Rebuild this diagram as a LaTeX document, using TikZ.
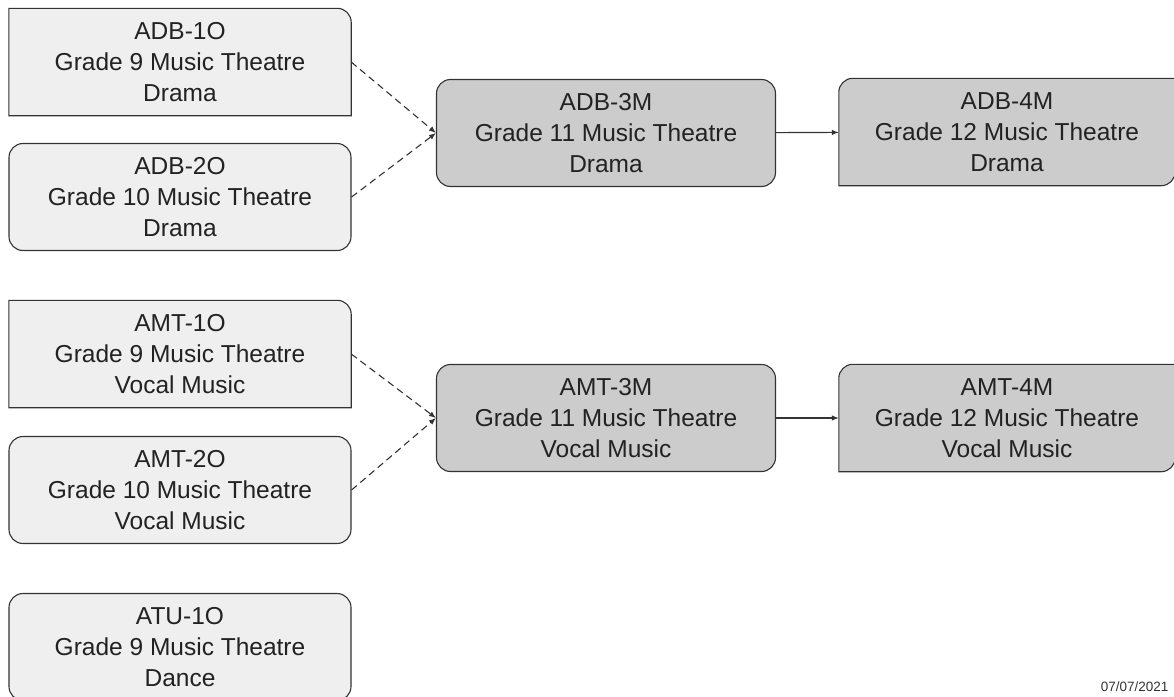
\documentclass[tikz,border=0pt]{standalone}
\usepackage{fontspec}
\setmainfont{Liberation Sans}
\usetikzlibrary{arrows.meta, backgrounds}
\definecolor{ink}{HTML}{222222}
\definecolor{edge}{HTML}{333333}
\definecolor{pale}{HTML}{EFEFEF}
\definecolor{grey}{HTML}{CCCCCC}

\begin{document}
\begin{tikzpicture}[x=1pt, y=-1pt, font=\fontsize{24.5}{31}\selectfont,
  c/.style={minimum height=107pt, inner sep=0pt, align=center, text=ink},
  lo/.style={c, minimum width=342pt},
  mid/.style={c, minimum width=339pt},
  hi/.style={c, minimum width=336pt},
  rbox/.style={draw=edge, line width=1.1pt, rounded corners=14pt},
  outl/.style={draw=edge, line width=1.1pt},
  arr/.style={-{Latex[length=7pt, width=5.5pt]}, line width=1.1pt, edge},
  dsh/.style={arr, dash pattern=on 7pt off 4.5pt}
]
  \useasboundingbox (0,0) rectangle (1174,696);

  \node[lo] (adb1) at (180,62) {ADB-1O\\Grade 9 Music Theatre\\Drama};
  \node[lo, rbox, fill=pale] (adb2) at (180,197) {ADB-2O\\Grade 10 Music Theatre\\Drama};
  \node[mid, rbox, fill=grey] (adb3) at (606,133) {ADB-3M\\Grade 11 Music Theatre\\Drama};
  \node[hi] (adb4) at (1007,132) {ADB-4M\\Grade 12 Music Theatre\\Drama};

  \node[lo] (amt1) at (180,354) {AMT-1O\\Grade 9 Music Theatre\\Vocal Music};
  \node[lo, rbox, fill=pale] (amt2) at (180,490) {AMT-2O\\Grade 10 Music Theatre\\Vocal Music};
  \node[mid, rbox, fill=grey] (amt3) at (606,418) {AMT-3M\\Grade 11 Music Theatre\\Vocal Music};
  \node[hi] (amt4) at (1007,418) {AMT-4M\\Grade 12 Music Theatre\\Vocal Music};

  \node[lo, rbox, fill=pale] (atu1) at (180,647) {ATU-1O\\Grade 9 Music Theatre\\Dance};

  \node[font=\fontsize{13.5}{15}\selectfont, text=edge, anchor=east] (date) at (1172,687) {07/07/2021};

  \begin{scope}[on background layer]
    \foreach \n in {adb1, amt1}
      \draw[outl, fill=pale] (\n.south west) -- (\n.north west)
        -- ([xshift=-14pt]\n.north east) arc[start angle=90, end angle=0, radius=14pt]
        -- (\n.south east) -- cycle;
    \foreach \n in {adb4, amt4}
      \draw[outl, fill=grey] ([yshift=-14pt]\n.north west) arc[start angle=180, end angle=90, radius=14pt]
        -- (\n.north east) -- ([yshift=14pt]\n.south east) arc[start angle=0, end angle=-90, radius=14pt]
        -- (\n.south west) -- cycle;
  \end{scope}

  \draw[dsh] (adb1.east) -- (adb3.west);
  \draw[dsh] (adb2.east) -- (adb3.west);
  \draw[arr] (adb3) -- (adb4);
  \draw[dsh] (amt1.east) -- (amt3.west);
  \draw[dsh] (amt2.east) -- (amt3.west);
  \draw[arr] (amt3) -- (amt4);
\end{tikzpicture}
\end{document}
